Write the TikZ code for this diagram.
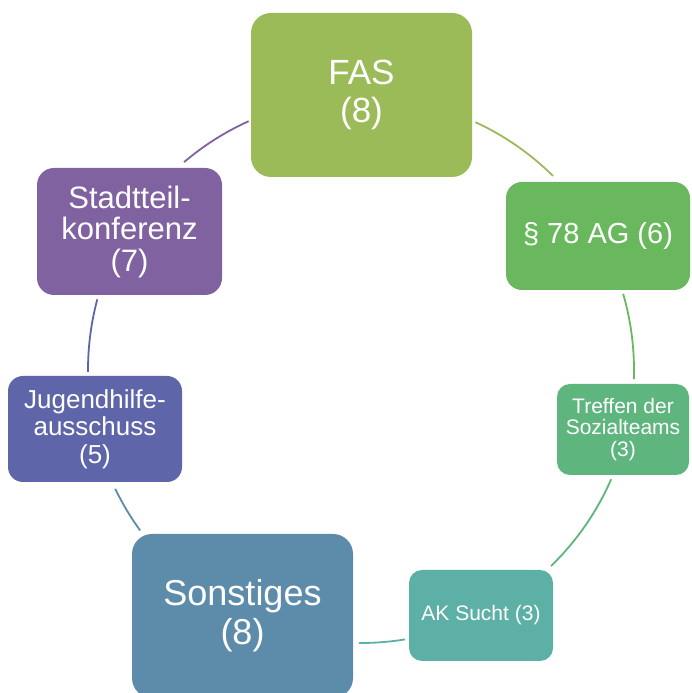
\documentclass[tikz,border=0pt]{standalone}
\usepackage{fontspec}
\setmainfont{Liberation Sans}
\definecolor{cFAS}{RGB}{155,187,89}
\definecolor{cAG}{RGB}{106,184,94}
\definecolor{cTS}{RGB}{94,182,126}
\definecolor{cAK}{RGB}{93,176,165}
\definecolor{cSO}{RGB}{93,139,170}
\definecolor{cJH}{RGB}{94,101,168}
\definecolor{cST}{RGB}{128,98,161}
\tikzset{
  box/.style={rounded corners=#1, inner sep=0pt, align=center, text=white},
  conn/.style={line width=1.8pt, draw=#1},
}
\newcommand{\fsz}[2]{\fontsize{#1}{#2}\selectfont}
\begin{document}
\begin{tikzpicture}[x=1pt,y=1pt]
\useasboundingbox (0,0) rectangle (691,693);
\fill[white] (0,0) rectangle (691,693);
\coordinate (c) at (361,323);
% nodes
\node[box=20pt, fill=cFAS, minimum width=221pt, minimum height=164pt, font=\fsz{35}{38}] (fas) at (361.5,598) {FAS\\(8)};
\node[box=16pt, fill=cAG, minimum width=184pt, minimum height=108pt, font=\fsz{29}{32}] (ag) at (598,457) {\S{} 78 AG (6)};
\node[box=13pt, fill=cTS, minimum width=132pt, minimum height=91pt, font=\fsz{21}{21.5}] (ts) at (623,263.5) {Treffen der\\Sozialteams\\(3)};
\node[box=13pt, fill=cAK, minimum width=144pt, minimum height=91pt, font=\fsz{21}{21}] (ak) at (481,77.5) {AK Sucht (3)};
\node[box=20pt, fill=cSO, minimum width=221pt, minimum height=164pt, font=\fsz{36}{39}] (so) at (242.5,77) {Sonstiges\\(8)};
\node[box=15pt, fill=cJH, minimum width=174pt, minimum height=106pt, font=\fsz{26}{27.5}] (jh) at (95,264) {Jugendhilfe-\\ausschuss\\(5)};
\node[box=17pt, fill=cST, minimum width=185pt, minimum height=127pt, font=\fsz{31}{31.5}] (st) at (129.5,461.5) {Stadtteil-\\konferenz\\(7)};
% connectors
\draw[conn=cFAS] ([shift={(c)}]65.2:273) arc[start angle=65.2, end angle=45.3, radius=273];
\draw[conn=cAG] ([shift={(c)}]16.2:273) arc[start angle=16.2, end angle=-1.9, radius=273];
\draw[conn=cTS] ([shift={(c)}]-23.6:273) arc[start angle=-23.6, end angle=-45.9, radius=273];
\draw[conn=cAK] ([shift={(c)}]-80.7:273) arc[start angle=-80.7, end angle=-90.4, radius=273];
\draw[conn=cSO] ([shift={(c)}]-144:273) arc[start angle=-144, end angle=-154.2, radius=273];
\draw[conn=cJH] ([shift={(c)}]-179.6:273) arc[start angle=-179.6, end angle=-195, radius=273];
\draw[conn=cST] ([shift={(c)}]130.4:273) arc[start angle=130.4, end angle=114.3, radius=273];
\end{tikzpicture}
\end{document}
